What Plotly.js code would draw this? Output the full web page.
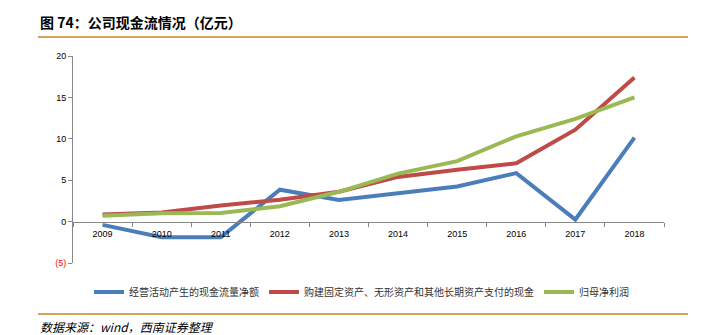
<!DOCTYPE html>
<html><head><meta charset="utf-8">
<script src="https://cdn.plot.ly/plotly-3.0.1.min.js"></script>
<style>html,body{margin:0;padding:0;background:#fff}#c{width:710px;height:335px}</style>
</head><body><div id="c"></div>
<script>
const years = ['2009','2010','2011','2012','2013','2014','2015','2016','2017','2018'];
const opCash = [-0.4, -1.9, -1.9, 3.85, 2.6, 3.45, 4.25, 5.85, 0.25, 10.15];
const capex = [0.85, 1.1, 1.95, 2.65, 3.6, 5.4, 6.25, 7.05, 11.1, 17.4];
const netProfit = [0.7, 1.0, 1.05, 1.85, 3.6, 5.8, 7.3, 10.3, 12.4, 15.0];
const names = ['经营活动产生的现金流量净额','购建固定资产、无形资产和其他长期资产支付的现金','归母净利润'];
const colors = ['#4a7ebb','#be4b48','#98b954'];
const yTickVals = [-5,0,5,10,15,20];
const yTickText = ['<span style="color:#ff0000">(5)</span>','0','5','10','15','20'];

const cjk = '"Noto Sans CJK SC", sans-serif';
const series = [opCash, capex, netProfit];
const data = series.map((s,i)=>({
  x: years, y: s, type:'scatter', mode:'lines', name: names[i],
  line:{color:colors[i], width:4}
}));
const H = 207, W = 591;
const layout = {
  width:710, height:335,
  margin:{l:73, r:46, t:56, b:72, autoexpand:false},
  paper_bgcolor:'#fff', plot_bgcolor:'#fff',
  showlegend:true,
  legend:{orientation:'h', x:(89-73)/W, xanchor:'left', y:-(292-263)/H, yanchor:'middle',
    font:{family:cjk, size:10, color:'#333'}, itemwidth:30, traceorder:'normal'},
  xaxis:{type:'category', range:[-0.5,9.5], anchor:'free', position:0.2,
    showline:true, linecolor:'#888', linewidth:1, ticks:'outside', ticklen:4,
    tickcolor:'#888', tickson:'boundaries', showgrid:false, zeroline:false,
    ticklabelstandoff:4,
    tickfont:{family:'"Liberation Sans", sans-serif', size:9, color:'#000'}},
  yaxis:{range:[-5,20], tickvals:yTickVals, ticktext:yTickText, showline:true,
    linecolor:'#888', linewidth:1, ticks:'outside', ticklen:4, tickcolor:'#888',
    showgrid:false, zeroline:false,
    tickfont:{family:'"Liberation Sans", sans-serif', size:9, color:'#000'}},
  shapes:[
    {type:'line', xref:'paper', yref:'paper', x0:-35/W, x1:(688-73)/W, y0:1.0 + (56-37)/H, y1:1.0 + (56-37)/H, line:{color:'#d6a35a', width:2}},
    {type:'line', xref:'paper', yref:'paper', x0:-35/W, x1:(688-73)/W, y0:-(314-263)/H, y1:-(314-263)/H, line:{color:'#d6a35a', width:2}}
  ],
  annotations:[
    {text:'<b>图 74：公司现金流情况（亿元）</b>', xref:'paper', yref:'paper', x:-35/W, y:1.0+(56-22)/H,
      xanchor:'left', yanchor:'middle', showarrow:false, font:{family:cjk, size:14, color:'#000'}},
    {text:'<i>数据来源：wind，西南证券整理</i>', xref:'paper', yref:'paper', x:-35/W, y:-(326-263)/H,
      xanchor:'left', yanchor:'middle', showarrow:false, font:{family:cjk, size:12, color:'#000'}}
  ]
};
Plotly.newPlot('c', data, layout, {displayModeBar:false, staticPlot:true});
</script></body></html>
